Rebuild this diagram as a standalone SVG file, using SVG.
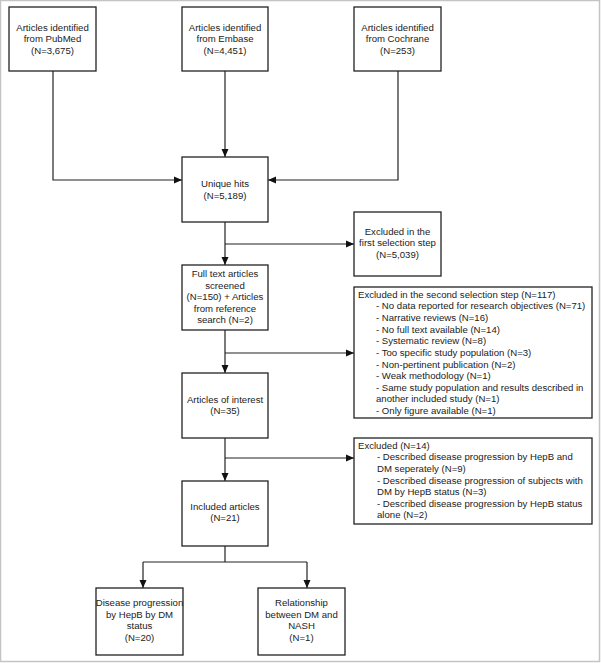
<svg xmlns="http://www.w3.org/2000/svg" width="601" height="663" viewBox="0 0 601 663">
<defs>
<marker id="ah" markerWidth="8" markerHeight="8" refX="8" refY="4" orient="auto" markerUnits="userSpaceOnUse">
<path d="M0,0.5 L8,4 L0,7.5 Z" fill="#111"/>
</marker>
</defs>
<style>
.box{fill:#fff;stroke:#222;stroke-width:1.3}
.t{font-family:"Liberation Sans",Arial,sans-serif;font-size:9.6px;fill:#222}
.c{text-anchor:middle}
.ln{fill:none;stroke:#222;stroke-width:1.2}
</style>
<rect x="0.5" y="0.5" width="599" height="661" fill="#fff" stroke="#c4c4c4" stroke-width="1.5"/>
<g id="connectors">
<path class="ln" d="M53,71 V180 H182" marker-end="url(#ah)"/>
<path class="ln" d="M225,71 V157" marker-end="url(#ah)"/>
<path class="ln" d="M398,71 V180 H268" marker-end="url(#ah)"/>
<path class="ln" d="M225,222 V265" marker-end="url(#ah)"/>
<path class="ln" d="M225,244 H354" marker-end="url(#ah)"/>
<path class="ln" d="M225,330 V373" marker-end="url(#ah)"/>
<path class="ln" d="M225,353 H354" marker-end="url(#ah)"/>
<path class="ln" d="M225,438 V481" marker-end="url(#ah)"/>
<path class="ln" d="M225,458 H354" marker-end="url(#ah)"/>
<path class="ln" d="M225,546 V562"/>
<path class="ln" d="M143,562 H307"/>
<path class="ln" d="M143,562 V588" marker-end="url(#ah)"/>
<path class="ln" d="M307,562 V588" marker-end="url(#ah)"/>
</g>
<g id="pubmed">
<rect class="box" x="9" y="7" width="87" height="64"/>
<text class="t c" x="52.5" y="30.5">Articles identified</text>
<text class="t c" x="52.5" y="42">from PubMed</text>
<text class="t c" x="52.5" y="53.5">(N=3,675)</text>
</g>
<g id="embase">
<rect class="box" x="182" y="7" width="86" height="64"/>
<text class="t c" x="225" y="30.5">Articles identified</text>
<text class="t c" x="225" y="42">from Embase</text>
<text class="t c" x="225" y="53.5">(N=4,451)</text>
</g>
<g id="cochrane">
<rect class="box" x="354" y="7" width="87" height="64"/>
<text class="t c" x="397.5" y="30.5">Articles identified</text>
<text class="t c" x="397.5" y="42">from Cochrane</text>
<text class="t c" x="397.5" y="53.5">(N=253)</text>
</g>
<g id="unique">
<rect class="box" x="182" y="157" width="86" height="65"/>
<text class="t c" x="225" y="187">Unique hits</text>
<text class="t c" x="225" y="198.5">(N=5,189)</text>
</g>
<g id="excluded1">
<rect class="box" x="354" y="212" width="87" height="64"/>
<text class="t c" x="397.5" y="234.5">Excluded in the</text>
<text class="t c" x="397.5" y="246">first selection step</text>
<text class="t c" x="397.5" y="257.5">(N=5,039)</text>
</g>
<g id="fulltext">
<rect class="box" x="182" y="265" width="86" height="65"/>
<text class="t c" x="225" y="277">Full text articles</text>
<text class="t c" x="225" y="288.5">screened</text>
<text class="t c" x="225" y="300">(N=150) + Articles</text>
<text class="t c" x="225" y="311.5">from reference</text>
<text class="t c" x="225" y="323">search (N=2)</text>
</g>
<g id="excluded2">
<rect class="box" x="354" y="287" width="238" height="131"/>
<text class="t" x="358" y="297.8">Excluded in the second selection step (N=117)</text>
<text class="t" x="376" y="309.4">- No data reported for research objectives (N=71)</text>
<text class="t" x="376" y="321">- Narrative reviews (N=16)</text>
<text class="t" x="376" y="332.7">- No full text available (N=14)</text>
<text class="t" x="376" y="344.3">- Systematic review (N=8)</text>
<text class="t" x="376" y="355.9">- Too specific study population (N=3)</text>
<text class="t" x="376" y="367.5">- Non-pertinent publication (N=2)</text>
<text class="t" x="376" y="379.2">- Weak methodology (N=1)</text>
<text class="t" x="376" y="390.8">- Same study population and results described in</text>
<text class="t" x="376" y="402.4">another included study (N=1)</text>
<text class="t" x="376" y="414">- Only figure available (N=1)</text>
</g>
<g id="interest">
<rect class="box" x="182" y="373" width="86" height="65"/>
<text class="t c" x="225" y="402.5">Articles of interest</text>
<text class="t c" x="225" y="414">(N=35)</text>
</g>
<g id="excluded3">
<rect class="box" x="354" y="438" width="238" height="86"/>
<text class="t" x="358" y="448.8">Excluded (N=14)</text>
<text class="t" x="377" y="460.4">- Described disease progression by HepB and</text>
<text class="t" x="377" y="471.9">DM seperately (N=9)</text>
<text class="t" x="377" y="483.5">- Described disease progression of subjects with</text>
<text class="t" x="377" y="495.1">DM by HepB status (N=3)</text>
<text class="t" x="377" y="506.7">- Described disease progression by HepB status</text>
<text class="t" x="377" y="518.2">alone (N=2)</text>
</g>
<g id="included">
<rect class="box" x="182" y="481" width="86" height="65"/>
<text class="t c" x="225" y="509.5">Included articles</text>
<text class="t c" x="225" y="521">(N=21)</text>
</g>
<g id="progression">
<rect class="box" x="96" y="588" width="87" height="67"/>
<text class="t c" x="139.5" y="606">Disease progression</text>
<text class="t c" x="139.5" y="617.5">by HepB by DM</text>
<text class="t c" x="139.5" y="629">status</text>
<text class="t c" x="139.5" y="640.5">(N=20)</text>
</g>
<g id="relationship">
<rect class="box" x="258" y="588" width="87" height="67"/>
<text class="t c" x="301.5" y="606">Relationship</text>
<text class="t c" x="301.5" y="617.5">between DM and</text>
<text class="t c" x="301.5" y="629">NASH</text>
<text class="t c" x="301.5" y="640.5">(N=1)</text>
</g>
</svg>
